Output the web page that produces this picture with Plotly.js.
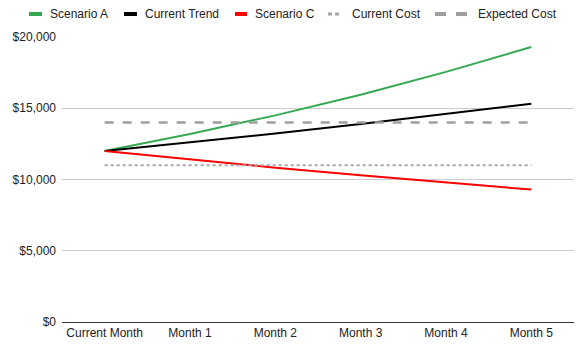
<!DOCTYPE html>
<html><head><meta charset="utf-8">
<script src="https://cdn.plot.ly/plotly-3.0.1.min.js"></script>
<style>html,body{margin:0;padding:0;background:#fff}#chart{width:588px;height:354px}</style>
</head><body><div id="chart"></div>
<script>
const categories = ["Current Month", "Month 1", "Month 2", "Month 3", "Month 4", "Month 5"];
const scenarioA = [12000, 13200, 14500, 15950, 17550, 19300];
const currentTrend = [12000, 12600, 13230, 13900, 14600, 15320];
const scenarioC = [12000, 11400, 10830, 10290, 9780, 9290];
const currentCost = [11000, 11000, 11000, 11000, 11000, 11000];
const expectedCost = [14000, 14000, 14000, 14000, 14000, 14000];
const seriesNames = ["Scenario A", "Current Trend", "Scenario C", "Current Cost", "Expected Cost"];
const yTicks = [0, 5000, 10000, 15000, 20000];
const yTickLabels = ["$0", "$5,000", "$10,000", "$15,000", "$20,000"];

const colors = ["#34a853", "#000000", "#ff0000", "#a6a6a6", "#9e9e9e"];
const dashes = ["solid", "solid", "solid", "dot", "dash"];
const widths = [2, 2, 2, 2, 2.5];
const allY = [scenarioA, currentTrend, scenarioC, currentCost, expectedCost];

const traces = allY.map((y, i) => ({
  type: "scatter", mode: "lines", name: seriesNames[i], x: categories, y: y,
  line: {color: colors[i], width: widths[i], dash: dashes[i]}, showlegend: false
}));

// custom legend (pixel layout -> paper coords)
const L = 62, R = 574, T = 37, B = 322;
const fx = px => (px - L) / (R - L);
const fy = py => (B - py) / (B - T);
const legY = 14;
const symSegs = [
  [[29, 42]],
  [[124, 137]],
  [[235, 247]],
  [[328, 332], [335, 339]],
  [[435, 446], [456, 467]]
];
const symH = [2, 2, 2, 1.5, 2];
const textX = [50, 145, 255, 352, 478];
const shapes = [];
const annotations = [];
symSegs.forEach((segs, i) => {
  segs.forEach(s => shapes.push({type: "rect", xref: "paper", yref: "paper",
    x0: fx(s[0]), x1: fx(s[1]), y0: fy(legY + symH[i]), y1: fy(legY - symH[i]),
    fillcolor: colors[i], line: {width: 0}}));
  annotations.push({xref: "paper", yref: "paper", x: fx(textX[i]), y: fy(legY),
    xanchor: "left", yanchor: "middle", xshift: -2, text: seriesNames[i], showarrow: false,
    font: {size: 12, color: "#222"}});
});

const layout = {
  width: 588, height: 354,
  margin: {l: L, r: 588 - R, t: T, b: 354 - B},
  paper_bgcolor: "#fff", plot_bgcolor: "#fff",
  font: {family: "Liberation Sans, Arial, sans-serif", size: 12, color: "#222"},
  showlegend: false,
  shapes: shapes, annotations: annotations,
  xaxis: {type: "category", range: [-0.5, 5.5], showgrid: false, zeroline: false, showline: false,
          ticks: "", ticklabelstandoff: 2, tickfont: {size: 12, color: "#222"}},
  yaxis: {range: [0, 20000], tickvals: yTicks, ticktext: yTickLabels,
          showgrid: true, gridcolor: "#cccccc", gridwidth: 1, zeroline: true,
          zerolinecolor: "#333", zerolinewidth: 1, showline: false, ticks: "",
          ticklabelstandoff: 5, tickfont: {size: 12, color: "#222"}}
};
Plotly.newPlot("chart", traces, layout, {displayModeBar: false, staticPlot: true});
</script></body></html>
